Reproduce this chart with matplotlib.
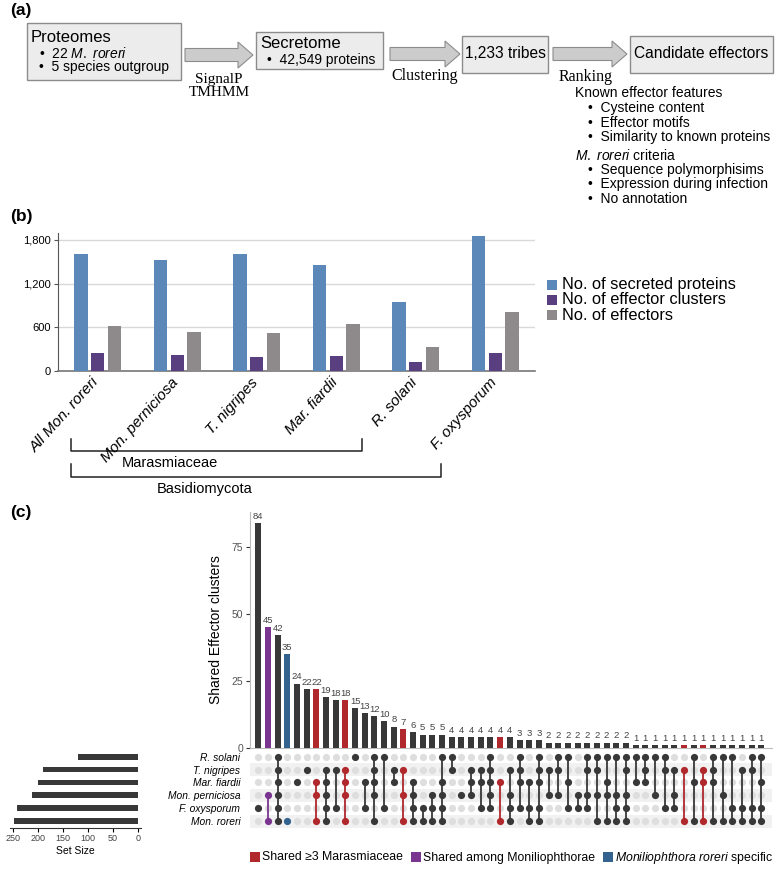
import matplotlib
matplotlib.use('Agg')
import matplotlib.pyplot as plt
from matplotlib import font_manager
from matplotlib.patches import Rectangle, FancyArrow

plt.rcParams['font.family'] = ['Liberation Sans', 'DejaVu Sans']
plt.rcParams['mathtext.fontset'] = 'custom'
plt.rcParams['mathtext.rm'] = 'Liberation Sans'
plt.rcParams['mathtext.it'] = 'Liberation Sans:italic'

names = set(f.name for f in font_manager.fontManager.ttflist)
narrow = 'Liberation Sans Narrow' if 'Liberation Sans Narrow' in names else 'Liberation Sans'

# ---- data panel (b)
species_b = ['All Mon. roreri', 'Mon. perniciosa', 'T. nigripes', 'Mar. fiardii', 'R. solani', 'F. oxysporum']
secreted = [1605, 1520, 1612, 1450, 945, 1860]
eff_clusters = [245, 220, 195, 208, 130, 250]
effectors = [615, 535, 525, 650, 330, 805]
b_series = ['No. of secreted proteins', 'No. of effector clusters', 'No. of effectors']
b_colors = ['#5b87b9', '#5a3f80', '#8e898b']
b_ticks = [0, 600, 1200, 1800]

# ---- data panel (c)
sets_c = ['R. solani', 'T. nigripes', 'Mar. fiardii', 'Mon. perniciosa', 'F. oxysporum', 'Mon. roreri']
set_size = [120, 190, 201, 213, 243, 248]
inter_counts = [84, 45, 42, 35, 24, 22, 22, 19, 18, 18,
                15, 13, 12, 10, 8, 7, 6, 5, 5, 5,
                4, 4, 4, 4, 4, 4, 4, 3, 3, 3,
                2, 2, 2, 2, 2, 2, 2, 2, 2,
                1, 1, 1, 1, 1, 1, 1, 1, 1, 1, 1, 1, 1, 1]
# rows: 0 R. solani, 1 T. nigripes, 2 Mar. fiardii, 3 Mon. perniciosa, 4 F. oxysporum, 5 Mon. roreri
members = [(4,), (3, 5), (0, 1, 2, 3, 4, 5), (5,), (2,), (1,), (2, 3, 5), (1, 2, 3, 4, 5), (1, 4), (1, 2, 3, 5),
           (0,), (2, 4), (0, 1, 2, 3, 5), (0, 4), (1, 2), (1, 3, 5), (2, 3, 4, 5), (4, 5), (3, 4, 5), (0, 2, 3, 4, 5),
           (0, 1), (3,), (1, 2, 3), (1, 2, 4), (0, 1, 2, 3, 4), (2, 5), (1, 3, 4, 5), (0, 1, 2, 4), (2, 4, 5), (0, 1, 2, 4, 5),
           (1, 3), (0, 1, 3), (0, 2, 4), (3, 4), (0, 1, 3, 4), (0, 1, 3, 5), (0, 2, 3, 5), (0, 3, 4, 5), (0, 1, 3, 4, 5),
           (0, 2), (0, 1, 2), (0, 3), (0, 1, 4), (1, 3, 4), (1, 5), (0, 2, 5), (1, 2, 5), (0, 1, 2, 5), (0, 3, 5),
           (0, 4, 5), (1, 4, 5), (0, 1, 4, 5), (0, 2, 4, 5)]
# group of each intersection: 'm' = shared >=3 Marasmiaceae, 'p' = Moniliophthorae, 'r' = M. roreri specific
groups = ['o'] * len(inter_counts)
for k in [6, 9, 15, 25, 44, 46]:
    groups[k] = 'm'
groups[1] = 'p'
groups[3] = 'r'
grp_col = {'o': '#383838', 'm': '#b0282b', 'p': '#7a3590', 'r': '#33628e'}
legend_c = [('m', 'Shared ≥3 Marasmiaceae'), ('p', 'Shared among Moniliophthorae'),
            ('r', r'$\it{Moniliophthora}$ $\it{roreri}$ specific')]

W, H = 777, 877
fig = plt.figure(figsize=(W / 100, H / 100), dpi=100)


def rect(x0, y0, x1, y1):
    return [x0 / W, 1 - y1 / H, (x1 - x0) / W, (y1 - y0) / H]


# overlay in pixel coordinates
ax0 = fig.add_axes([0, 0, 1, 1], facecolor='none')
ax0.set_xlim(0, W)
ax0.set_ylim(H, 0)
ax0.axis('off')

for lab, y in [('(a)', 11), ('(b)', 217), ('(c)', 512)]:
    ax0.text(10, y, lab, fontsize=12.5, fontweight='bold', va='center')

# ---- panel (a) flow chart
box_kw = dict(fc='#ececec', ec='#8c8c8c', lw=1)
arr_kw = dict(width=13, head_width=26, head_length=15, length_includes_head=True,
              fc='#cccccc', ec='#8c8c8c', lw=0.8)
ax0.add_patch(Rectangle((27, 23), 154, 57, **box_kw))
ax0.text(31, 38, 'Proteomes', fontsize=12, va='center')
ax0.text(39, 53, '•  22 $\\it{M.}$ $\\it{roreri}$', fontsize=10, va='center')
ax0.text(39, 67, '•  5 species outgroup', fontsize=10, va='center')
ax0.add_patch(FancyArrow(185, 55, 68, 0, **arr_kw))
ax0.text(219, 79, 'SignalP', family='Liberation Serif', fontsize=11, ha='center', va='center')
ax0.text(219, 93, 'TMHMM', family='Liberation Serif', fontsize=11, ha='center', va='center')

ax0.add_patch(Rectangle((256, 32), 127, 37, **box_kw))
ax0.text(260, 43, 'Secretome', fontsize=12, va='center')
ax0.text(267, 60, '•  42,549 proteins', fontsize=10, va='center')
ax0.add_patch(FancyArrow(390, 54, 70, 0, **arr_kw))
ax0.text(425, 76, 'Clustering', family='Liberation Serif', fontsize=11.5, ha='center', va='center')

ax0.add_patch(Rectangle((462, 36), 86, 37, **box_kw))
ax0.text(505, 54, '1,233 tribes', fontsize=11.2, ha='center', va='center')
ax0.add_patch(FancyArrow(553, 54, 74, 0, **arr_kw))
ax0.text(586, 77, 'Ranking', family='Liberation Serif', fontsize=11.5, ha='center', va='center')

ax0.add_patch(Rectangle((630, 36), 143, 37, **box_kw))
ax0.text(701.5, 54, 'Candidate effectors', fontsize=11.2, ha='center', va='center')

lines_a = [(575, 93, 'Known effector features'),
           (588, 108, '•  Cysteine content'),
           (588, 123, '•  Effector motifs'),
           (588, 137, '•  Similarity to known proteins'),
           (575, 155, '$\\it{M.}$ $\\it{roreri}$ criteria'),
           (588, 170, '•  Sequence polymorphisims'),
           (588, 184, '•  Expression during infection'),
           (588, 199, '•  No annotation')]
for x, y, s in lines_a:
    ax0.text(x, y, s, fontsize=10, va='center')

# ---- panel (b) bars
ax_b = fig.add_axes(rect(58, 232.7, 535, 371), facecolor='none')
xs = range(len(species_b))
for k, vals in enumerate([secreted, eff_clusters, effectors]):
    ax_b.bar([x + (k - 1) * 0.21 for x in xs], vals, width=0.165, color=b_colors[k], zorder=3)
ax_b.set_xlim(-0.5, 5.5)
ax_b.set_ylim(0, 1900)
ax_b.set_yticks(b_ticks)
ax_b.set_yticklabels(['0', '600', '1,200', '1,800'], family=narrow, fontsize=8)
ax_b.grid(axis='y', color='#d9d9d9', lw=1, zorder=0)
ax_b.set_xticks([])
for s in ['top', 'right']:
    ax_b.spines[s].set_visible(False)
ax_b.spines['left'].set_color('#555555')
ax_b.spines['bottom'].set_color('#777777')
ax_b.spines['bottom'].set_linewidth(1.2)
ax_b.tick_params(axis='y', length=3, color='#555555', pad=2)
for i, lab in enumerate(species_b):
    ax_b.text(i - 0.08, -0.03, lab, transform=ax_b.get_xaxis_transform(), rotation=48,
              ha='right', va='top', rotation_mode='anchor', family=narrow, style='italic', fontsize=11)

for k, lab in enumerate(b_series):
    y = 285 + k * 15
    ax0.add_patch(Rectangle((547, y - 5), 10, 10, fc=b_colors[k], ec='none'))
    ax0.text(562, y, lab, family=narrow, fontsize=11.8, va='center')

# clade brackets
ax0.plot([71, 71, 362, 362], [439, 451, 451, 439], color='#222222', lw=1.1)
ax0.text(170, 463, 'Marasmiaceae', family=narrow, fontsize=10.5, ha='center', va='center')
ax0.plot([71, 71, 441, 441], [464, 477, 477, 464], color='#222222', lw=1.1)
ax0.text(205, 489, 'Basidiomycota', family=narrow, fontsize=10.5, ha='center', va='center')

# ---- panel (c) upset plot
n = len(inter_counts)
xlo, xhi = -0.86, 53.1
cols = [grp_col[g] for g in groups]

ax_i = fig.add_axes(rect(250, 512, 772, 748), facecolor='none')
ax_i.bar(range(n), inter_counts, width=0.62, color=cols, zorder=3)
for j, v in enumerate(inter_counts):
    ax_i.text(j, v + 0.8, str(v), ha='center', va='bottom', fontsize=6.8, color='#444444')
ax_i.set_xlim(xlo, xhi)
ax_i.set_ylim(0, 88)
ax_i.set_yticks([0, 25, 50, 75])
ax_i.set_xticks([])
ax_i.tick_params(axis='y', length=3, labelsize=7.5, labelcolor='#555555', color='#333333', pad=2)
for s in ['top', 'right']:
    ax_i.spines[s].set_visible(False)
ax_i.spines['left'].set_color('#bbbbbb')
ax_i.spines['bottom'].set_color('#bbbbbb')
ax_i.set_ylabel('Shared Effector clusters', fontsize=10, labelpad=6)

ax_m = fig.add_axes(rect(250, 750.2, 772, 827.6), facecolor='none')
for i in [1, 3, 5]:
    ax_m.axhspan(i - 0.5, i + 0.5, color='#f1f1f1', zorder=0, lw=0)
for j, mem in enumerate(members):
    off = [i for i in range(len(sets_c)) if i not in mem]
    ax_m.scatter([j] * len(off), off, s=27, color='#dedede', zorder=2, lw=0)
    if len(mem) > 1:
        ax_m.plot([j, j], [min(mem), max(mem)], color=cols[j], lw=1.3, zorder=3)
    ax_m.scatter([j] * len(mem), list(mem), s=27, color=cols[j], zorder=4, lw=0)
ax_m.set_xlim(xlo, xhi)
ax_m.set_ylim(5.5, -0.5)
ax_m.set_xticks([])
ax_m.set_yticks(range(len(sets_c)))
ax_m.set_yticklabels(sets_c, style='italic', fontsize=7.4)
ax_m.tick_params(axis='y', length=0, pad=7)
for s in ax_m.spines.values():
    s.set_visible(False)

ax_s = fig.add_axes(rect(10, 750.2, 141, 827.6), facecolor='none')
ax_s.barh(range(len(sets_c)), set_size, height=0.45, color='#383838')
ax_s.set_xlim(256, -6)
ax_s.set_ylim(5.5, -0.5)
ax_s.set_yticks([])
ax_s.set_xticks([250, 200, 150, 100, 50, 0])
ax_s.tick_params(axis='x', length=3, labelsize=6.5, labelcolor='#444444', pad=1.5)
for s in ['top', 'right', 'left']:
    ax_s.spines[s].set_visible(False)
ax_s.spines['bottom'].set_color('#333333')
ax_s.set_xlabel('Set Size', fontsize=7.5, labelpad=2)

# legend of panel (c), laid out from the right edge
rend = fig.canvas.get_renderer()
x = 773
for g, lab in reversed(legend_c):
    t = ax0.text(x, 857.5, lab, fontsize=8.8, va='center', ha='right')
    w = t.get_window_extent(rend).width
    ax0.add_patch(Rectangle((x - w - 12, 852), 10, 10, fc=grp_col[g], ec='none'))
    x = x - w - 20

fig.savefig('out.png', dpi=100)
